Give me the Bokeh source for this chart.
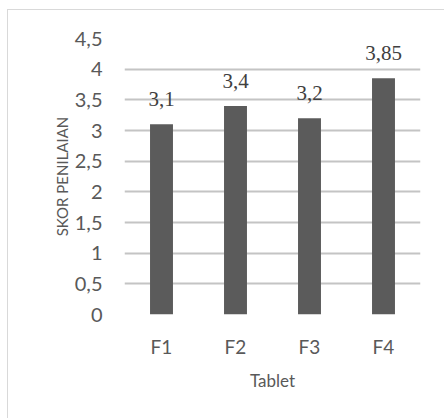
from bokeh.plotting import figure
from bokeh.models import ColumnDataSource, LabelSet, Range1d, FactorRange, FixedTicker, CustomJSTickFormatter
from bokeh.embed import file_html
from bokeh.resources import INLINE

# ---- data ----
categories = ["F1", "F2", "F3", "F4"]
scores = [3.1, 3.4, 3.2, 3.85]
y_ticks = [0, 0.5, 1, 1.5, 2, 2.5, 3, 3.5, 4, 4.5]
x_title = "Tablet"
y_title = "SKOR PENILAIAN"

labels = [str(v).replace(".", ",") for v in scores]
source = ColumnDataSource(data=dict(cat=categories, val=scores, lab=labels))

FONT = "Lato"
TEXT_COL = "#595959"

p = figure(
    width=437, height=409,
    x_range=FactorRange(*categories, range_padding=0),
    y_range=Range1d(0, 4.5),
    output_backend="svg", toolbar_location=None,
    min_border_left=116, min_border_right=25, min_border_top=28, min_border_bottom=105,
)
p.styles = {"margin-left": "7px", "margin-top": "9px",
            "border-left": "1px solid #d9d9d9", "border-top": "1px solid #d9d9d9"}

p.vbar(x="cat", top="val", width=0.31, source=source, color="#5b5b5b", line_color=None)

lbl = LabelSet(x="cat", y="val", text="lab", source=source, text_align="center",
               text_baseline="alphabetic", y_offset=18, text_font=FONT,
               text_font_size="21px", text_color="#404040")
p.add_layout(lbl)

p.outline_line_color = None
p.background_fill_color = None
p.border_fill_color = None
p.xgrid.visible = False
p.ygrid.ticker = FixedTicker(ticks=y_ticks)
p.ygrid.grid_line_color = "#c4c4c4"
p.ygrid.grid_line_width = 2
p.ygrid.level = "underlay"

p.yaxis.ticker = FixedTicker(ticks=y_ticks)
p.yaxis.formatter = CustomJSTickFormatter(code="return tick.toString().replace('.', ',');")

for ax in (p.xaxis[0], p.yaxis[0]):
    ax.axis_line_color = None
    ax.major_tick_line_color = None
    ax.minor_tick_line_color = None
    ax.major_tick_out = 0
    ax.major_tick_in = 0
    ax.major_label_text_font = FONT
    ax.major_label_text_color = TEXT_COL
    ax.axis_label_text_font = FONT
    ax.axis_label_text_font_style = "normal"
    ax.axis_label_text_color = TEXT_COL

p.yaxis.major_label_text_font_size = "20px"
p.yaxis.major_label_standoff = 22
p.yaxis.axis_label = y_title
p.yaxis.axis_label_text_font_size = "15px"
p.yaxis.axis_label_standoff = 1

p.xaxis.major_label_text_font_size = "19px"
p.xaxis.major_label_standoff = 20
p.xaxis.axis_label = x_title
p.xaxis.axis_label_text_font_size = "17px"
p.xaxis.axis_label_standoff = 9

open("out.html", "w").write(file_html(p, INLINE))
